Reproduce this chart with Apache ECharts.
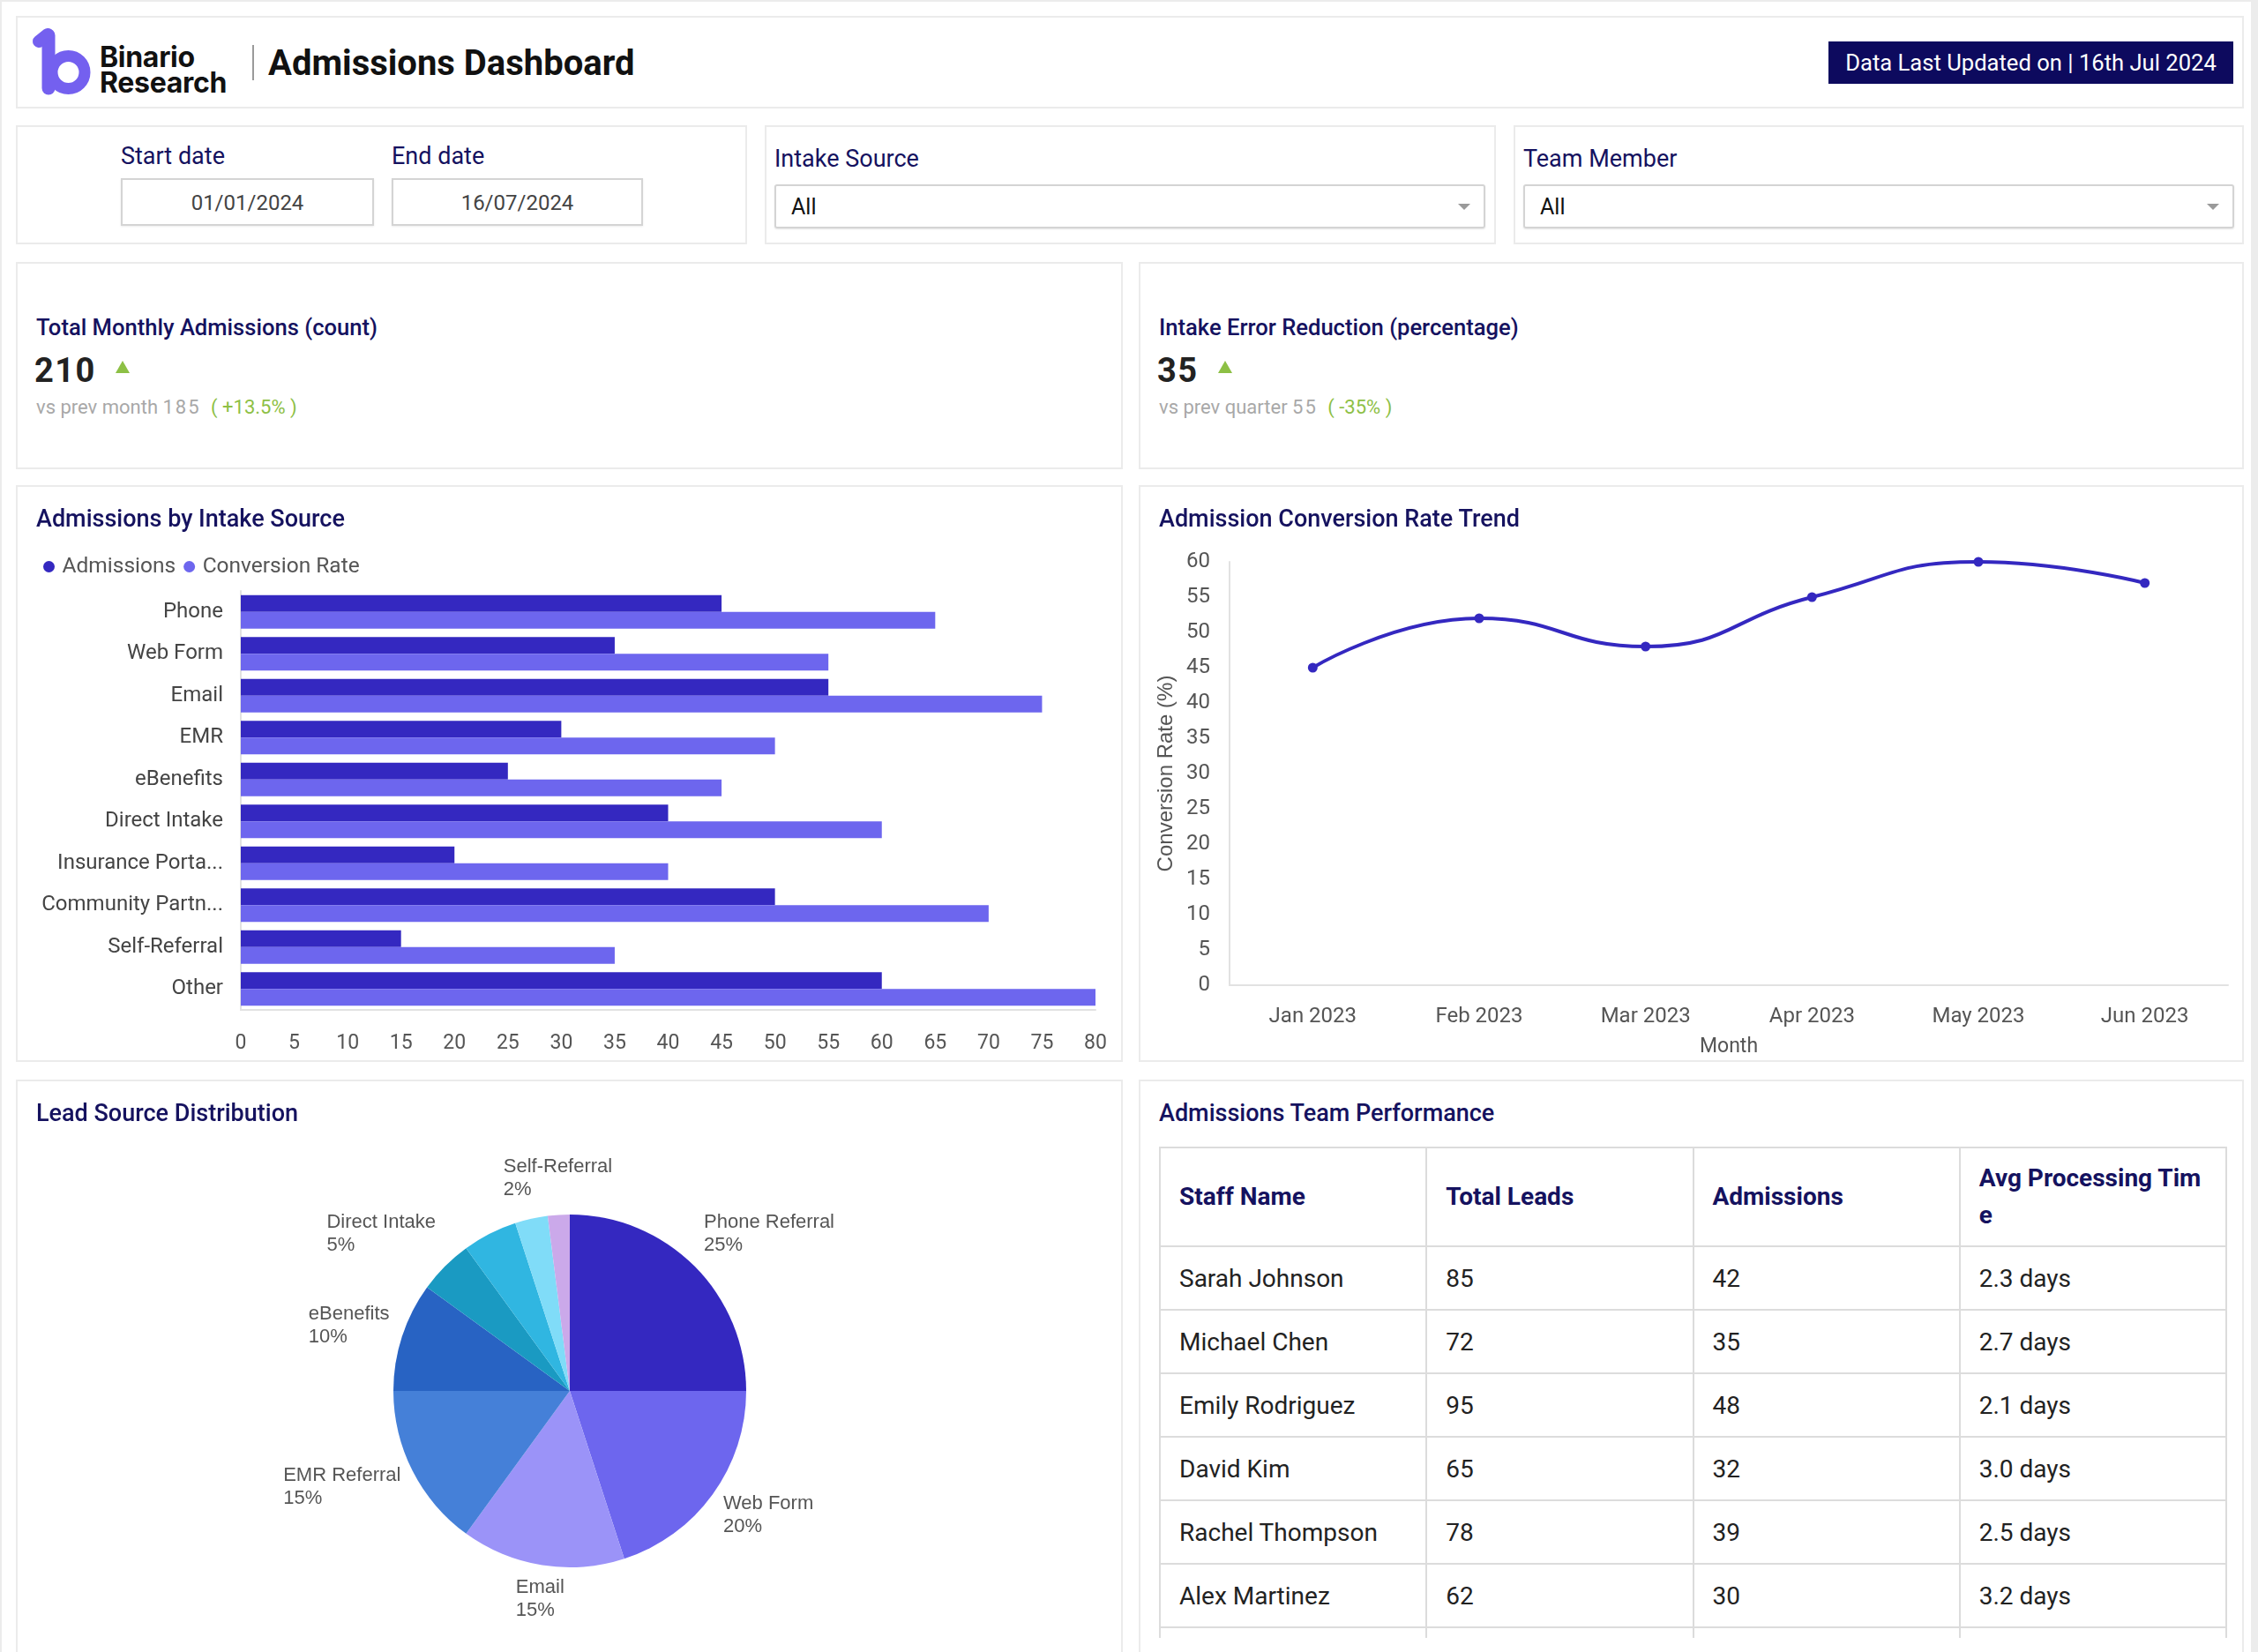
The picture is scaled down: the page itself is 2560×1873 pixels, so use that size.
<!DOCTYPE html>
<html lang="en">
<head>
<meta charset="UTF-8">
<title>Admissions Dashboard</title>
<script src="https://cdn.jsdelivr.net/npm/echarts@6.0.0/dist/echarts.min.js"></script>
<style>
    html, body { margin: 0; padding: 0; }
    body { width: 2560px; height: 1873px; overflow: hidden; position: relative; background: #fff; font-family: Roboto, sans-serif; }
    .frame { position: absolute; left: 0; top: 0; width: 2560px; height: 1873px; box-sizing: border-box;
             border-top: 2px solid #ececec; border-left: 2px solid #ececec; border-right: 8px solid #ececec; }
    .card { position: absolute; background: #fff; border: 2px solid #ebebeb; box-sizing: border-box; }
    .t { position: absolute; white-space: nowrap; }
    .label { font-size: 27px; line-height: 34px; color: #15125f; }
    .datebox { position: absolute; border: 2px solid #d4d4d4; box-sizing: border-box; text-align: center;
               font-size: 24px; color: #444; box-shadow: 0 1px 2px rgba(0,0,0,0.08); }
    .select { position: absolute; border: 2px solid #d4d4d4; border-radius: 3px; box-sizing: border-box;
              font-size: 25px; color: #111; box-shadow: 0 1px 2px rgba(0,0,0,0.1); }
    .select .arrow { position: absolute; right: 15px; top: 20px; width: 0; height: 0;
                     border-left: 7px solid transparent; border-right: 7px solid transparent; border-top: 7px solid #9a9a9a; }
    .kpiTitle { font-size: 25.6px; line-height: 32px; font-weight: 500; color: #15125f; }
    .kpiValue { font-size: 38px; line-height: 44px; font-weight: 700; color: #222; letter-spacing: 1.5px; }
    .tri { position: absolute; width: 0; height: 0; border-left: 8px solid transparent; border-right: 8px solid transparent; border-bottom: 14px solid #8dc045; }
    .kpiSub { font-size: 22px; line-height: 28px; color: #a8a8a8; }
    .kpiSub .chg { color: #8dc045; margin-left: 8px; }
    .chartTitle { font-size: 27px; line-height: 34px; font-weight: 500; color: #15125f; }
    .chart { position: absolute; }
    .tableWrap { position: absolute; left: 1314px; top: 1300px; width: 1211px; height: 557px; overflow: hidden; }
    table { border-collapse: collapse; table-layout: fixed; width: 1211px; }
    th, td { border: 2px solid #dcdcdc; text-align: left; padding: 0 26px 0 21px; }
    th { height: 110px; font-size: 28px; line-height: 42px; font-weight: 700; color: #15125f; word-break: break-all; }
    td { height: 70px; font-size: 28px; color: #222; }
</style>
</head>
<body>
<div class="frame"></div>

<!-- header -->
<div class="card" style="left:18px;top:18px;width:2526px;height:105px;"></div>
<svg style="position:absolute;left:30px;top:25px;" width="80" height="90">
    <g fill="none" stroke="#7460ef" stroke-linecap="round">
        <line x1="25" y1="15" x2="25" y2="75" stroke-width="15"/>
        <line x1="24" y1="14" x2="14" y2="22" stroke-width="14"/>
        <circle cx="47.5" cy="57" r="18.5" stroke-width="13"/>
    </g>
</svg>
<div class="t" style="left:113px;top:50px;font-family:Inter,sans-serif;font-weight:700;font-size:32px;line-height:30px;color:#111;letter-spacing:-0.3px;">Binario</div>
<div class="t" style="left:113px;top:79px;font-family:Inter,sans-serif;font-weight:700;font-size:32px;line-height:30px;color:#111;letter-spacing:-0.3px;">Research</div>
<div style="position:absolute;left:286px;top:51px;width:2px;height:40px;background:#9a9a9a;"></div>
<div class="t" style="left:304px;top:49px;font-size:40px;line-height:46px;font-weight:700;color:#111;">Admissions Dashboard</div>
<div class="t" style="left:2073px;top:47px;width:459px;height:48px;line-height:48px;background:#0d0a5e;color:#fff;font-size:25.6px;text-align:center;">Data Last Updated on | 16th Jul 2024</div>

<!-- filters -->
<div class="card" style="left:18px;top:142px;width:829px;height:135px;"></div>
<div class="t label" style="left:137px;top:160px;">Start date</div>
<div class="datebox" id="startBox" style="left:137px;top:202px;width:287px;height:54px;line-height:52px;"></div>
<div class="t label" style="left:444px;top:160px;">End date</div>
<div class="datebox" id="endBox" style="left:444px;top:202px;width:285px;height:54px;line-height:52px;"></div>

<div class="card" style="left:867px;top:142px;width:829px;height:135px;"></div>
<div class="t label" style="left:878px;top:163px;">Intake Source</div>
<div class="select" style="left:878px;top:209px;width:806px;height:50px;line-height:48px;padding-left:17px;">All<div class="arrow"></div></div>

<div class="card" style="left:1716px;top:142px;width:828px;height:135px;"></div>
<div class="t label" style="left:1727px;top:163px;">Team Member</div>
<div class="select" style="left:1727px;top:209px;width:806px;height:50px;line-height:48px;padding-left:17px;">All<div class="arrow"></div></div>

<!-- KPI cards -->
<div class="card" style="left:18px;top:297px;width:1255px;height:235px;"></div>
<div class="t kpiTitle" id="kpi1Title" style="left:41px;top:355px;"></div>
<div class="t kpiValue" id="kpi1Value" style="left:39px;top:398px;"></div>
<div class="tri" style="left:131px;top:409px;"></div>
<div class="t kpiSub" id="kpi1Sub" style="left:41px;top:448px;"></div>

<div class="card" style="left:1291px;top:297px;width:1253px;height:235px;"></div>
<div class="t kpiTitle" id="kpi2Title" style="left:1314px;top:355px;"></div>
<div class="t kpiValue" id="kpi2Value" style="left:1312px;top:398px;"></div>
<div class="tri" style="left:1381px;top:409px;"></div>
<div class="t kpiSub" id="kpi2Sub" style="left:1314px;top:448px;"></div>

<!-- chart cards -->
<div class="card" style="left:18px;top:550px;width:1255px;height:654px;"></div>
<div class="card" style="left:1291px;top:550px;width:1253px;height:654px;"></div>
<div class="card" style="left:18px;top:1224px;width:1255px;height:700px;"></div>
<div class="card" style="left:1291px;top:1224px;width:1253px;height:700px;"></div>

<div id="barChart" class="chart" style="left:18px;top:550px;width:1255px;height:654px;"></div>
<div id="lineChart" class="chart" style="left:1291px;top:550px;width:1253px;height:654px;"></div>
<div id="pieChart" class="chart" style="left:18px;top:1224px;width:1255px;height:649px;"></div>

<div class="t chartTitle" style="left:41px;top:571px;">Admissions by Intake Source</div>
<div class="t chartTitle" style="left:1314px;top:571px;">Admission Conversion Rate Trend</div>
<div class="t chartTitle" style="left:41px;top:1245px;">Lead Source Distribution</div>
<div class="t chartTitle" style="left:1314px;top:1245px;">Admissions Team Performance</div>

<div class="tableWrap"><table id="teamTable"></table></div>

<script type="text/javascript">
    // filters
    var startDate = '01/01/2024';
    var endDate = '16/07/2024';

    // KPIs
    var kpiTitles = ['Total Monthly Admissions (count)', 'Intake Error Reduction (percentage)'];
    var kpiValues = [210, 35];
    var kpiPrevLabels = ['vs prev month', 'vs prev quarter'];
    var kpiPrevValues = [185, 55];
    var kpiChanges = ['+13.5%', '-35%'];

    // Admissions by Intake Source
    var intakeSources = ['Phone', 'Web Form', 'Email', 'EMR', 'eBenefits', 'Direct Intake',
        'Insurance Portal', 'Community Partners', 'Self-Referral', 'Other'];
    var admissionsBySource = [45, 35, 55, 30, 25, 40, 20, 50, 15, 60];
    var conversionBySource = [65, 55, 75, 50, 45, 60, 40, 70, 35, 80];

    // Conversion trend
    var trendMonths = ['Jan 2023', 'Feb 2023', 'Mar 2023', 'Apr 2023', 'May 2023', 'Jun 2023'];
    var trendRates = [45, 52, 48, 55, 60, 57];

    // Lead source distribution
    var leadSources = ['Phone Referral', 'Web Form', 'Email', 'EMR Referral', 'eBenefits',
        'Direct Intake', 'Insurance Portal', 'Community Partners', 'Self-Referral'];
    var leadShares = [25, 20, 15, 15, 10, 5, 5, 3, 2];
    var leadColors = ['#3428c0', '#6d66ee', '#9b93f8', '#4580d8', '#2863c3', '#1a9ac2', '#30b6e1', '#80dcf8', '#cba9ea'];
    var unlabeledSources = ['Insurance Portal', 'Community Partners'];

    // Team performance
    var tableHeaders = ['Staff Name', 'Total Leads', 'Admissions', 'Avg Processing Time'];
    var staffNames = ['Sarah Johnson', 'Michael Chen', 'Emily Rodriguez', 'David Kim', 'Rachel Thompson', 'Alex Martinez'];
    var staffLeads = [85, 72, 95, 65, 78, 62];
    var staffAdmissions = [42, 35, 48, 32, 39, 30];
    var staffDays = [2.3, 2.7, 2.1, 3.0, 2.5, 3.2];

    var darkBlue = '#3428c0';
    var midBlue = '#6d66ee';
    var axisGray = '#e2e2e2';

    document.getElementById('startBox').textContent = startDate;
    document.getElementById('endBox').textContent = endDate;

    for (var k = 0; k < 2; k++) {
        document.getElementById('kpi' + (k + 1) + 'Title').textContent = kpiTitles[k];
        document.getElementById('kpi' + (k + 1) + 'Value').textContent = kpiValues[k];
        document.getElementById('kpi' + (k + 1) + 'Sub').innerHTML =
            kpiPrevLabels[k] + ' ' + String(kpiPrevValues[k]).split('').join('<span style="margin-left:2px"></span>') +
            ' <span class="chg">( ' + kpiChanges[k] + ' )</span>';
    }

    // table
    var tbl = document.getElementById('teamTable');
    var html = '<tr>' + tableHeaders.map(function (h) { return '<th>' + h + '</th>'; }).join('') + '</tr>';
    for (var r = 0; r < staffNames.length; r++) {
        html += '<tr><td>' + staffNames[r] + '</td><td>' + staffLeads[r] + '</td><td>' +
            staffAdmissions[r] + '</td><td>' + staffDays[r].toFixed(1) + ' days</td></tr>';
    }
    html += '<tr><td></td><td></td><td></td><td></td></tr>';
    tbl.innerHTML = html;

    // bar chart
    var barChart = echarts.init(document.getElementById('barChart'));
    barChart.setOption({
        animation: false,
        legend: {
            left: 26,
            top: 75,
            icon: 'circle',
            itemWidth: 20,
            itemHeight: 13,
            itemGap: 9,
            textStyle: { fontFamily: 'Roboto', fontSize: 24.5, color: '#555' },
            data: ['Admissions', 'Conversion Rate']
        },
        grid: { left: 255, right: 31, top: 120, bottom: 59 },
        xAxis: {
            type: 'value',
            min: 0,
            max: 80,
            interval: 5,
            axisLine: { show: true, lineStyle: { color: axisGray, width: 2 } },
            axisTick: { show: false },
            splitLine: { show: false },
            axisLabel: { fontFamily: 'Roboto', fontSize: 23, color: '#555', margin: 27 }
        },
        yAxis: {
            type: 'category',
            inverse: true,
            data: intakeSources,
            axisLine: { show: true, lineStyle: { color: axisGray, width: 2 } },
            axisTick: { show: false },
            axisLabel: {
                fontFamily: 'Roboto', fontSize: 24, color: '#444', margin: 20,
                formatter: function (v) { return v.length > 15 ? v.slice(0, 15) + '...' : v; }
            }
        },
        series: [{
            name: 'Admissions',
            type: 'bar',
            data: admissionsBySource,
            itemStyle: { color: darkBlue },
            barGap: '0%',
            barCategoryGap: '20%'
        }, {
            name: 'Conversion Rate',
            type: 'bar',
            data: conversionBySource,
            itemStyle: { color: midBlue },
            barGap: '0%',
            barCategoryGap: '20%'
        }]
    });

    // line chart
    var lineChart = echarts.init(document.getElementById('lineChart'));
    lineChart.setOption({
        animation: false,
        grid: { left: 103, right: 18, top: 87, bottom: 86 },
        xAxis: {
            type: 'category',
            data: trendMonths,
            name: 'Month',
            nameLocation: 'middle',
            nameGap: 59,
            nameTextStyle: { fontFamily: 'Roboto', fontSize: 23, color: '#555' },
            axisLine: { show: true, lineStyle: { color: axisGray, width: 2 } },
            axisTick: { show: false },
            axisLabel: { fontFamily: 'Roboto', fontSize: 24, color: '#555', margin: 24 }
        },
        yAxis: {
            type: 'value',
            min: 0,
            max: 60,
            interval: 5,
            name: 'Conversion Rate (%)',
            nameLocation: 'middle',
            nameGap: 50,
            nameTextStyle: { fontFamily: 'Liberation Sans', fontSize: 24, color: '#555' },
            axisLine: { show: true, lineStyle: { color: axisGray, width: 2 } },
            axisTick: { show: false },
            splitLine: { show: false },
            axisLabel: { fontFamily: 'Roboto', fontSize: 24, color: '#555', margin: 22 }
        },
        series: [{
            type: 'line',
            data: trendRates,
            smooth: true,
            symbol: 'circle',
            symbolSize: 11,
            lineStyle: { color: darkBlue, width: 4 },
            itemStyle: { color: darkBlue }
        }]
    });

    // pie chart
    var pieCenter = [628, 353];
    var pieRadius = 200;
    var labelRadius = 215;
    var shareTotal = leadShares.reduce(function (a, b) { return a + b; }, 0);
    var midAngles = [];
    var acc = 0;
    leadShares.forEach(function (v) {
        midAngles.push((acc + v / 2) / shareTotal * 2 * Math.PI);
        acc += v;
    });

    var pieData = leadSources.map(function (name, i) {
        var item = { name: name, value: leadShares[i] };
        if (unlabeledSources.indexOf(name) >= 0) {
            item.label = { show: false };
        }
        return item;
    });
    var pieChart = echarts.init(document.getElementById('pieChart'));
    pieChart.setOption({
        animation: false,
        color: leadColors,
        series: [{
            type: 'pie',
            center: pieCenter,
            radius: pieRadius,
            startAngle: 90,
            clockwise: true,
            avoidLabelOverlap: false,
            data: pieData,
            label: {
                show: true,
                position: 'outside',
                formatter: '{n|{b}}\n{n|{d}%}',
                rich: {
                    n: { fontFamily: 'Liberation Sans', fontSize: 22, lineHeight: 26, color: '#555', align: 'left' }
                }
            },
            labelLine: { show: false },
            labelLayout: function (params) {
                // anchor each label just outside its slice; upper labels sit on the anchor,
                // the others hang from it a little depending on the angle
                var a = midAngles[params.dataIndex];
                var sx = Math.sin(a), cy = Math.cos(a);
                var h = params.labelRect.height;
                var ax = pieCenter[0] + labelRadius * sx;
                var ay = pieCenter[1] - labelRadius * cy;
                var upper = cy > 0.4;
                return {
                    x: ax,
                    y: upper ? ay : ay - h / 2 * cy,
                    align: sx > 0.3 ? 'left' : (sx < -0.3 ? 'right' : 'center'),
                    verticalAlign: upper ? 'bottom' : 'middle'
                };
            }
        }]
    });
</script>
</body>
</html>
